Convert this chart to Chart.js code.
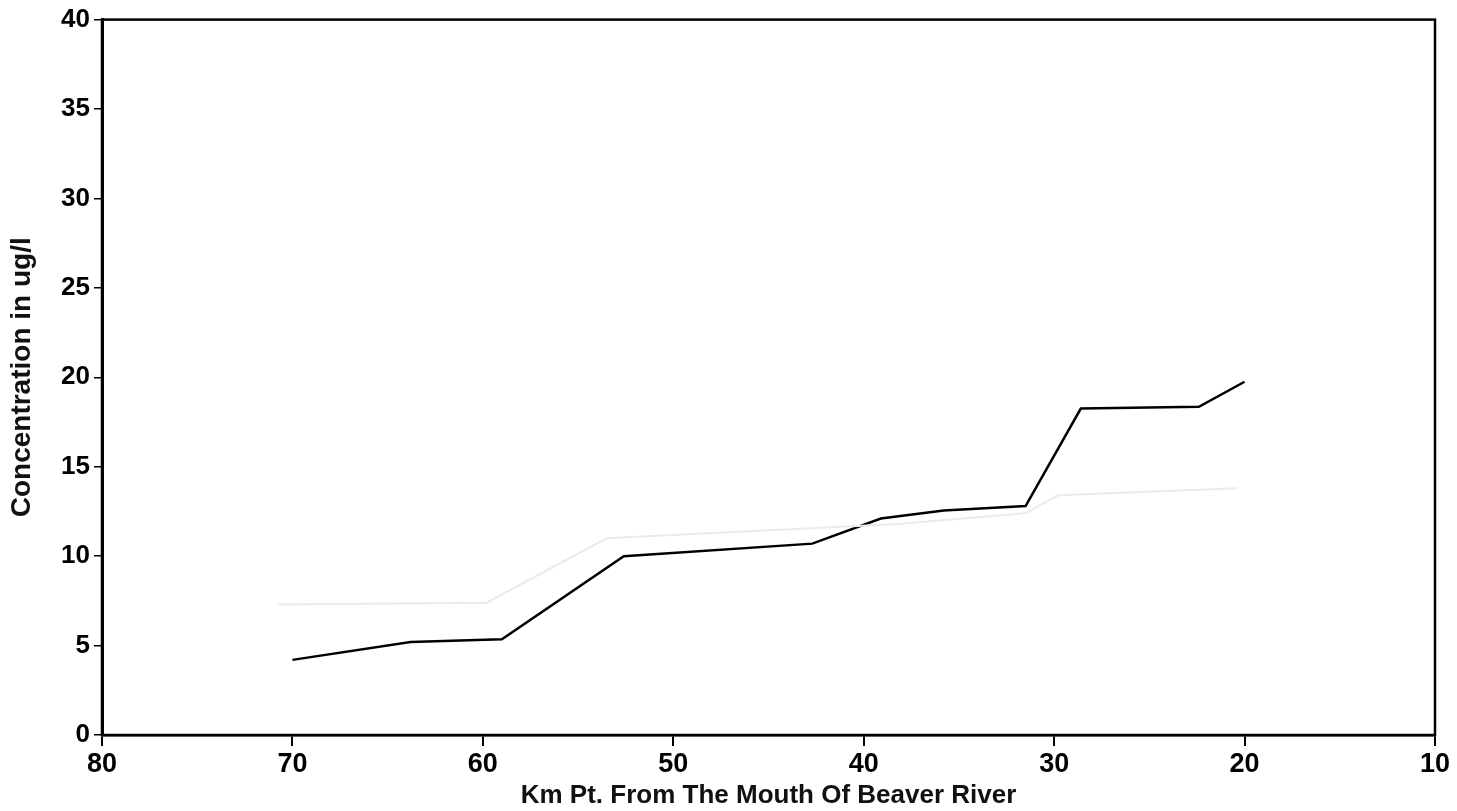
<!DOCTYPE html>
<html lang="en">

<head>
    <meta charset="UTF-8">
    <title>Concentration along Beaver River</title>
    <script src="https://cdn.jsdelivr.net/npm/chart.js"></script>
    <style>
        html, body { margin: 0; padding: 0; background: #fff; }
        .grafico { width: 1457px; height: 811px; }
    </style>
</head>

<body>
    <div class="grafico">
        <canvas id="grafico"></canvas>
    </div>
</body>

</html>

<script>
    // km points (axis runs from 80 down to 10)
    var kmPontos = [70, 63.8, 59, 52.6, 42.7, 39.1, 35.8, 31.5, 28.6, 22.4, 20];
    var concentracao = [4.2, 5.2, 5.35, 10.0, 10.7, 12.1, 12.55, 12.8, 18.25, 18.35, 19.75];

    // faint show-through line visible on the scan
    var kmFundo = [70.8, 59.8, 53.5, 38.2, 31.5, 29.8, 20.4];
    var concFundo = [7.3, 7.4, 11.0, 11.8, 12.4, 13.4, 13.8];

    var ticksX = [80, 70, 60, 50, 40, 30, 20, 10];
    var ticksY = [0, 5, 10, 15, 20, 25, 30, 35, 40];

    function pares(xs, ys) {
        var out = [];
        for (var i = 0; i < xs.length; i++) {
            out.push({ x: xs[i], y: ys[i] });
        }
        return out;
    }

    // draws the box around the plot area
    var moldura = {
        id: 'moldura',
        afterDraw: function (chart) {
            var a = chart.chartArea;
            var ctx = chart.ctx;
            ctx.save();
            ctx.strokeStyle = '#000';
            ctx.lineWidth = 2.5;
            ctx.strokeRect(a.left, a.top, a.right - a.left, a.bottom - a.top);
            ctx.restore();
        }
    };

    var fonte = 'Liberation Sans';

    var ctx = document.getElementById('grafico');
    var grafico = new Chart(ctx, {
        type: 'line',
        data: {
            datasets: [{
                label: 'Fundo',
                data: pares(kmFundo, concFundo),
                borderColor: '#ebebeb',
                borderWidth: 2,
                pointRadius: 0,
                tension: 0
            }, {
                label: 'Concentração',
                data: pares(kmPontos, concentracao),
                borderColor: '#000',
                borderWidth: 2.5,
                pointRadius: 0,
                tension: 0
            }]
        },
        options: {
            responsive: true,
            maintainAspectRatio: false,
            animation: false,
            layout: {
                padding: { top: 18, right: 22, bottom: 0, left: 0 }
            },
            plugins: {
                legend: { display: false },
                tooltip: { enabled: false }
            },
            scales: {
                x: {
                    type: 'linear',
                    reverse: true,
                    min: 10,
                    max: 80,
                    afterBuildTicks: function (scale) {
                        scale.ticks = ticksX.map(function (v) { return { value: v }; });
                    },
                    afterFit: function (scale) {
                        scale.height = 76;
                    },
                    grid: {
                        drawOnChartArea: false,
                        color: '#000',
                        lineWidth: 2,
                        tickLength: 11
                    },
                    border: { color: '#000', width: 2.5 },
                    ticks: {
                        color: '#000',
                        padding: 2,
                        maxRotation: 0,
                        font: { family: fonte, size: 27, weight: 'bold' }
                    },
                    title: {
                        display: true,
                        text: 'Km Pt. From The Mouth Of Beaver River',
                        color: '#111',
                        padding: { top: 0, bottom: 0 },
                        font: { family: fonte, size: 26, weight: 'bold' }
                    }
                },
                y: {
                    min: 0,
                    max: 40,
                    afterBuildTicks: function (scale) {
                        scale.ticks = ticksY.map(function (v) { return { value: v }; });
                    },
                    afterFit: function (scale) {
                        scale.width = 102;
                    },
                    grid: {
                        drawOnChartArea: false,
                        color: '#000',
                        lineWidth: 1.5,
                        tickLength: 8
                    },
                    border: { color: '#000', width: 3 },
                    ticks: {
                        color: '#000',
                        padding: 4,
                        font: { family: fonte, size: 26, weight: 'bold' }
                    },
                    title: {
                        display: true,
                        text: 'Concentration in ug/l',
                        color: '#111',
                        padding: { top: 5, bottom: 0 },
                        font: { family: fonte, size: 28, weight: 'bold' }
                    }
                }
            }
        },
        plugins: [moldura]
    });
</script>
